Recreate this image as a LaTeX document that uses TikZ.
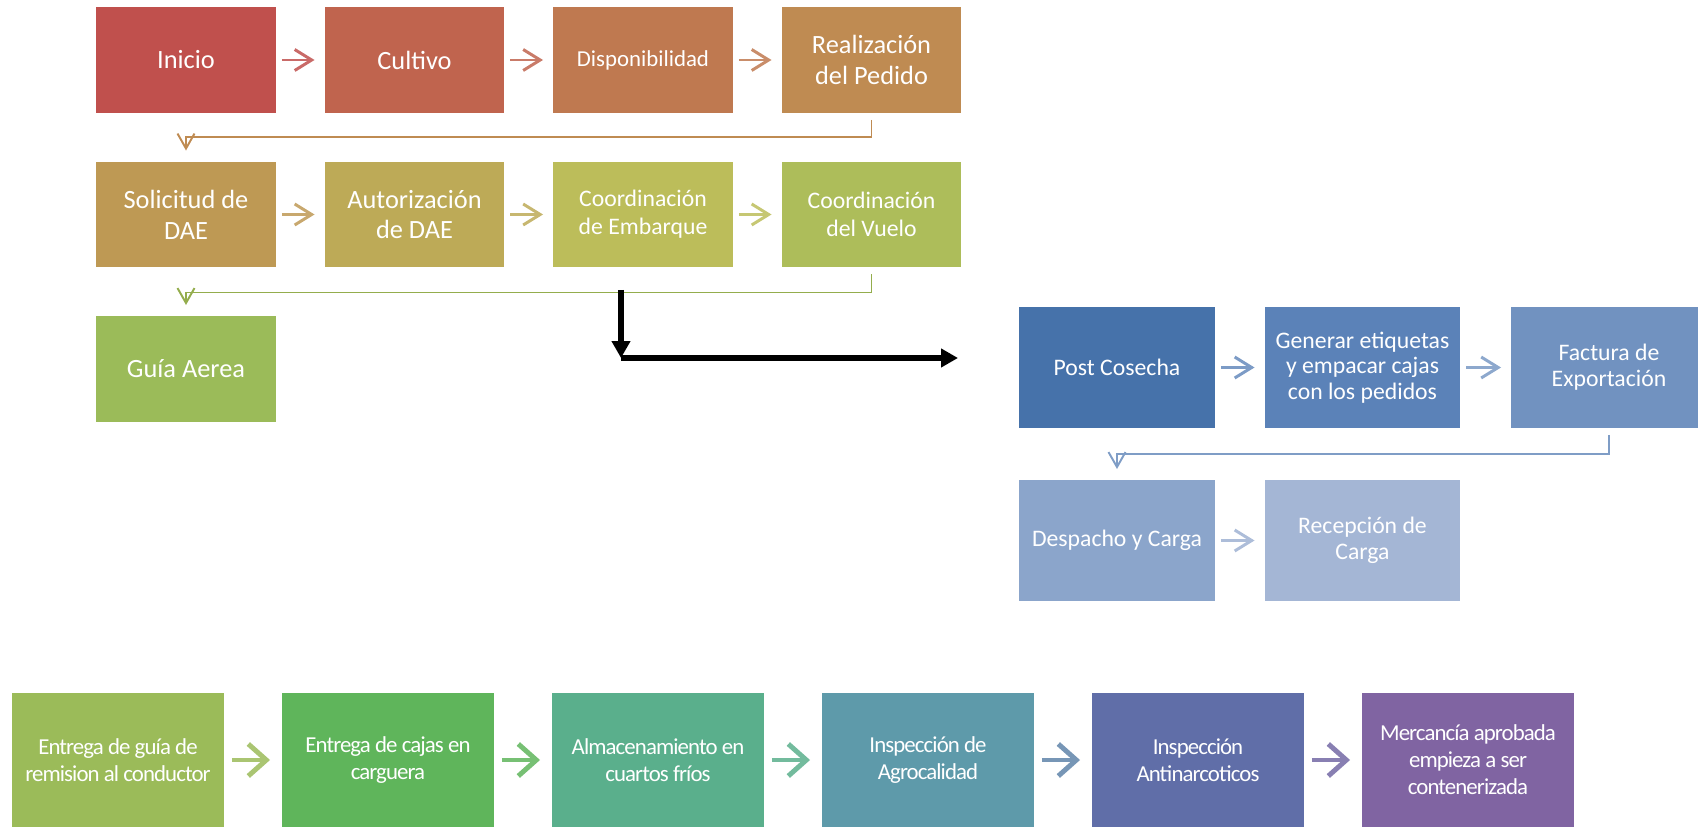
\documentclass[tikz,border=0pt]{standalone}
\usepackage{fontspec}
\setmainfont{Carlito}
\usetikzlibrary{arrows.meta}

% first group
\definecolor{cInicio}{HTML}{C0504D}
\definecolor{cCultivo}{HTML}{C0644E}
\definecolor{cDispo}{HTML}{BF7950}
\definecolor{cPedido}{HTML}{BF8B52}
\definecolor{cSolic}{HTML}{BE9954}
\definecolor{cAutor}{HTML}{BDAA57}
\definecolor{cEmbar}{HTML}{BCBD5A}
\definecolor{cVuelo}{HTML}{ADBD5A}
\definecolor{cGuia}{HTML}{9BBB59}
% second group
\definecolor{cPost}{HTML}{4672AA}
\definecolor{cEtiq}{HTML}{5B82B8}
\definecolor{cFact}{HTML}{7192C0}
\definecolor{cDesp}{HTML}{8BA5CB}
\definecolor{cRecep}{HTML}{A4B6D5}
% third group
\definecolor{cRemis}{HTML}{9BBB59}
\definecolor{cCajas}{HTML}{5FB55B}
\definecolor{cFrio}{HTML}{5AAF8C}
\definecolor{cAgro}{HTML}{5E9AAA}
\definecolor{cAnti}{HTML}{606EA8}
\definecolor{cMerc}{HTML}{8064A2}

\begin{document}
\begin{tikzpicture}[x=0.02cm, y=-0.02cm,
	box/.style={fill=#1, text=white, minimum width=3.6cm, minimum height=2.12cm,
		outer sep=0pt, inner sep=2pt, align=center, font=\fontsize{15}{17.6}\selectfont},
	bluebox/.style={box=#1, minimum width=3.92cm, minimum height=2.42cm,
		font=\fontsize{13.5}{14.6}\selectfont},
	lowbox/.style={box=#1, minimum width=4.24cm, minimum height=2.68cm,
		font=\fontsize{13}{15.3}\selectfont\addfontfeature{LetterSpace=-4}},
	flecha/.style={draw=#1, line width=1.7pt, shorten <=0.12cm, shorten >=0.2cm,
		-{Straight Barb[length=0.34cm, width=0.42cm]}},
	flechabaja/.style={draw=#1, line width=2.8pt, shorten <=0.16cm, shorten >=0.24cm,
		-{Straight Barb[length=0.36cm, width=0.64cm]}},
	codo/.style={draw=#1, line width=1.1pt, shorten <=0.14cm, shorten >=0.22cm,
		-{Straight Barb[length=0.3cm, width=0.34cm]}},
	negra/.style={draw=black, line width=3.4pt, -{Triangle[length=0.34cm, width=0.36cm]}}]
	\clip[use as bounding box] (0,0) rectangle (1698,827);
	% first group
	\node[box=cInicio] (inicio) at (186,60) {Inicio};
	\node[box=cCultivo] (cultivo) at (414.5,60) {Cultivo};
	\node[box=cDispo, font=\fontsize{13}{15}\selectfont] (dispo) at (643,60) {Disponibilidad};
	\node[box=cPedido] (pedido) at (871.5,60) {Realización\\del Pedido};
	\node[box=cSolic] (solicitud) at (186,214.5) {Solicitud de\\DAE};
	\node[box=cAutor] (autoriza) at (414.5,214.5) {Autorización\\de DAE};
	\node[box=cEmbar, font=\fontsize{13.5}{15.8}\selectfont] (embarque) at (643,214.5) {Coordinación\\de Embarque};
	\node[box=cVuelo, font=\fontsize{13.5}{15.8}\selectfont] (vuelo) at (871.5,214.5) {Coordinación\\del Vuelo};
	\node[box=cGuia] (guia) at (186,369) {Guía Aerea};
	\draw[flecha=cInicio!85!white] (inicio) -- (cultivo);
	\draw[flecha=cCultivo!85!white] (cultivo) -- (dispo);
	\draw[flecha=cDispo!85!white] (dispo) -- (pedido);
	\draw[flecha=cSolic!85!white] (solicitud) -- (autoriza);
	\draw[flecha=cAutor!85!white] (autoriza) -- (embarque);
	\draw[flecha=cEmbar!85!white] (embarque) -- (vuelo);
	\draw[codo=cPedido] (pedido.south) -- ++(0,24) -| (solicitud.north);
	\draw[codo=cVuelo!95!green!90!black] (vuelo.south) -- ++(0,25) -| (guia.north);
	% jump to the second group
	\coordinate (salto) at (621,290);
	\coordinate (esquina) at (621,358);
	\coordinate (destino) at (958,358);
	\draw[negra] (salto) -- (esquina);
	\draw[negra] (esquina) -- (destino);
	% second group
	\node[bluebox=cPost] (post) at (1117,367.5) {Post Cosecha};
	\node[bluebox=cEtiq] (etiquetas) at (1362.5,367.5) {Generar etiquetas\\y empacar cajas\\con los pedidos};
	\node[bluebox=cFact] (factura) at (1609,367.5) {Factura de\\Exportación};
	\node[bluebox=cDesp] (despacho) at (1117,540.5) {Despacho y Carga};
	\node[bluebox=cRecep] (recepcion) at (1362.5,540.5) {Recepción de\\Carga};
	\draw[flecha=cEtiq!80!white] (post) -- (etiquetas);
	\draw[flecha=cFact!80!white] (etiquetas) -- (factura);
	\draw[flecha=cRecep!90!white] (despacho) -- (recepcion);
	\draw[codo=cFact!90!white] (factura.south) -- ++(0,26) -| (despacho.north);
	% third group
	\node[lowbox=cRemis] (remision) at (118,760) {Entrega de guía de\\remision al conductor};
	\node[lowbox=cCajas] (cajas) at (388,760) {Entrega de cajas en\\carguera};
	\node[lowbox=cFrio] (frio) at (658,760) {Almacenamiento en\\cuartos fríos};
	\node[lowbox=cAgro] (agro) at (928,760) {Inspección de\\Agrocalidad};
	\node[lowbox=cAnti] (anti) at (1198,760) {Inspección\\Antinarcoticos};
	\node[lowbox=cMerc] (mercancia) at (1468,760) {Mercancía aprobada\\empieza a ser\\contenerizada};
	\draw[flechabaja=cRemis!85!white] (remision) -- (cajas);
	\draw[flechabaja=cCajas!85!white] (cajas) -- (frio);
	\draw[flechabaja=cFrio!85!white] (frio) -- (agro);
	\draw[flechabaja=cAgro!50!cAnti!85!white] (agro) -- (anti);
	\draw[flechabaja=cAnti!40!cMerc!85!white] (anti) -- (mercancia);
\end{tikzpicture}
\end{document}
